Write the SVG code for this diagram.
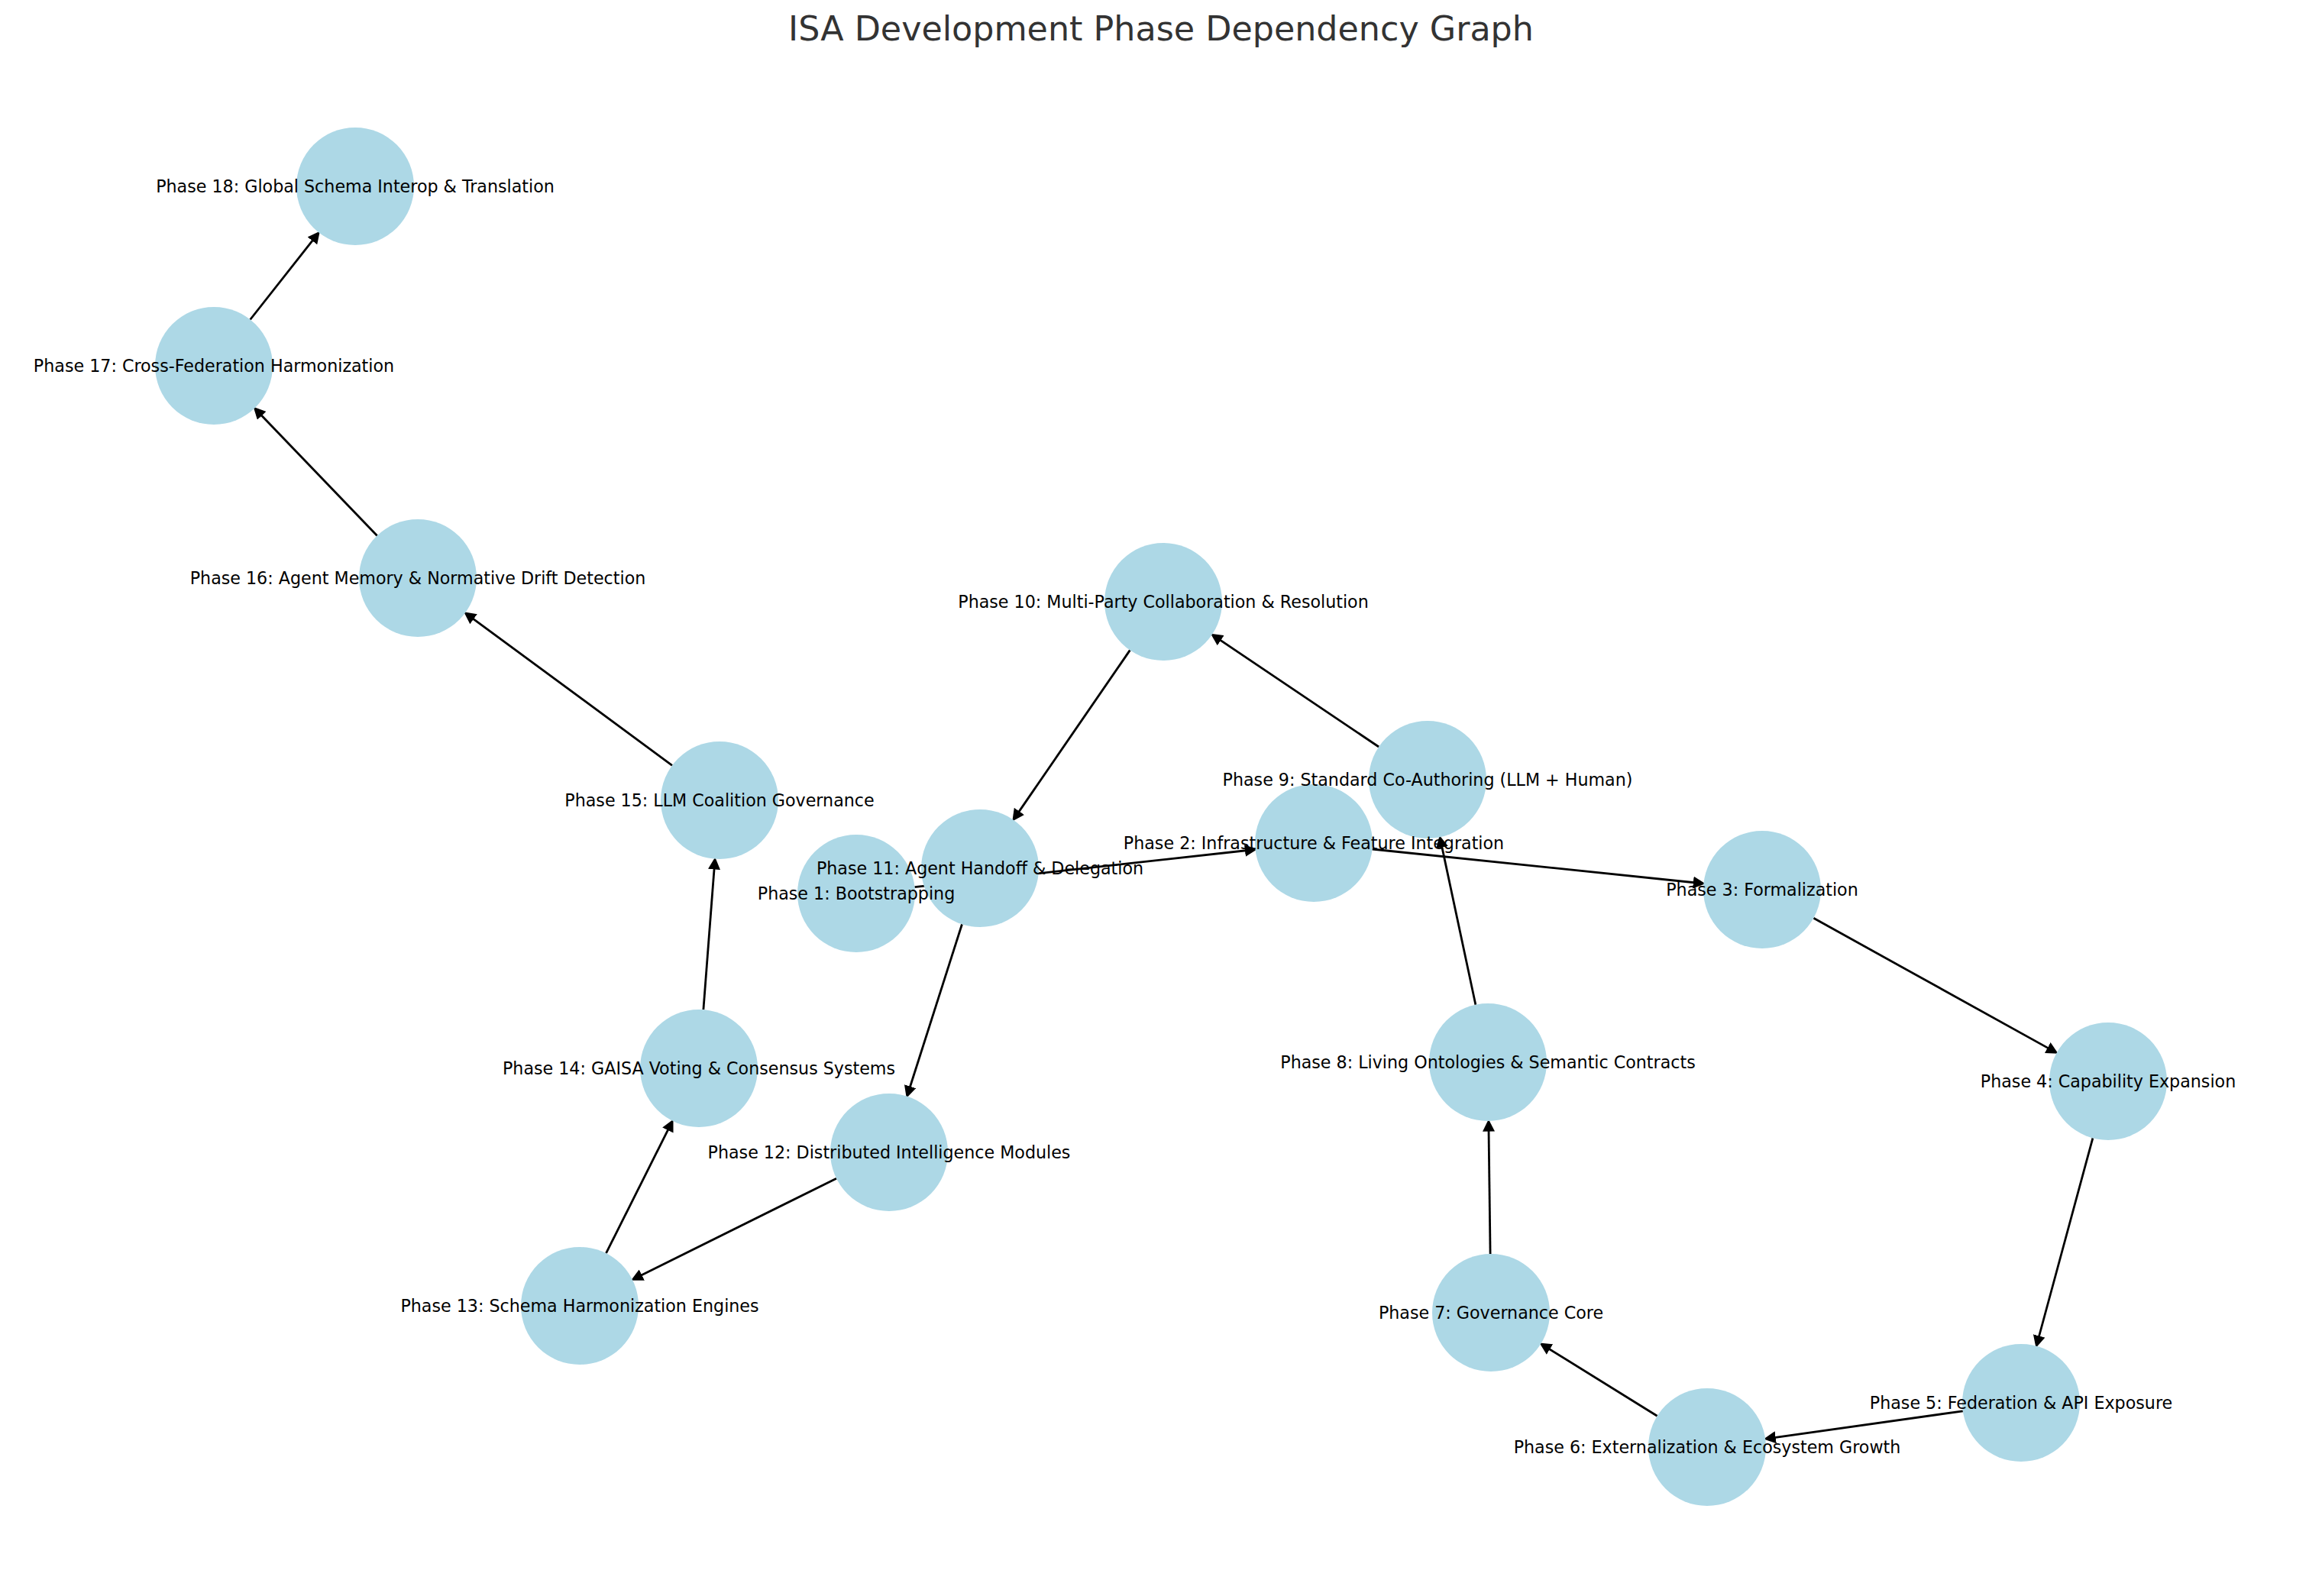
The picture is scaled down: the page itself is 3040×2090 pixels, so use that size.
<svg xmlns="http://www.w3.org/2000/svg" width="3040" height="2090" viewBox="0 0 3040 2090">
<style>
.node{fill:#add8e6;stroke:none}
.edge{stroke:#000;stroke-width:2.8;fill:none}
.lbl{font-family:"DejaVu Sans","Liberation Sans",sans-serif;font-size:22.2px;fill:#000;text-anchor:middle}
.title{font-family:"DejaVu Sans","Liberation Sans",sans-serif;font-size:44.4px;fill:#333;text-anchor:middle}
</style>
<defs>
<marker id="arr" markerUnits="userSpaceOnUse" markerWidth="16" markerHeight="16" refX="3" refY="6.5" orient="auto" viewBox="0 0 13 13">
<path d="M0,0 L13,6.5 L0,13 z" fill="#000"/>
</marker>
</defs>
<rect width="3040" height="2090" fill="#fff"/>
<text class="title" x="1520" y="53">ISA Development Phase Dependency Graph</text>
<g id="edges">
<line class="edge" marker-end="url(#arr)" x1="1197.5" y1="1161.6" x2="1633.6" y2="1113.5"/>
<line class="edge" marker-end="url(#arr)" x1="1796.6" y1="1112.0" x2="2220.5" y2="1156.0"/>
<line class="edge" marker-end="url(#arr)" x1="2374.4" y1="1202.3" x2="2683.9" y2="1373.9"/>
<line class="edge" marker-end="url(#arr)" x1="2739.9" y1="1490.3" x2="2668.7" y2="1753.0"/>
<line class="edge" marker-end="url(#arr)" x1="2569.8" y1="1847.8" x2="2321.1" y2="1882.8"/>
<line class="edge" marker-end="url(#arr)" x1="2169.6" y1="1854.3" x2="2025.9" y2="1765.0"/>
<line class="edge" marker-end="url(#arr)" x1="1951.1" y1="1642" x2="1949.0" y2="1478"/>
<line class="edge" marker-end="url(#arr)" x1="1931.9" y1="1315.7" x2="1887.2" y2="1106.1"/>
<line class="edge" marker-end="url(#arr)" x1="1805.1" y1="978.0" x2="1595.2" y2="836.6"/>
<line class="edge" marker-end="url(#arr)" x1="1479.4" y1="851.4" x2="1332.3" y2="1065.4"/>
<line class="edge" marker-end="url(#arr)" x1="1259.5" y1="1210.3" x2="1190.5" y2="1426.2"/>
<line class="edge" marker-end="url(#arr)" x1="1095.0" y1="1543.2" x2="837.0" y2="1671.3"/>
<line class="edge" marker-end="url(#arr)" x1="793.5" y1="1641.2" x2="876.0" y2="1476.7"/>
<line class="edge" marker-end="url(#arr)" x1="920.9" y1="1322.2" x2="935.3" y2="1134.8"/>
<line class="edge" marker-end="url(#arr)" x1="880.0" y1="1002.3" x2="617.1" y2="808.6"/>
<line class="edge" marker-end="url(#arr)" x1="493.7" y1="701.5" x2="340.2" y2="541.7"/>
<line class="edge" marker-end="url(#arr)" x1="327.6" y1="418.5" x2="411.2" y2="312.4"/>
</g>
<g id="node-1"><circle class="node" cx="1121" cy="1170" r="77"/></g>
<g id="node-2"><circle class="node" cx="1720" cy="1104" r="77"/></g>
<g id="node-3"><circle class="node" cx="2307" cy="1165" r="77"/></g>
<g id="node-4"><circle class="node" cx="2760" cy="1416" r="77"/></g>
<g id="node-5"><circle class="node" cx="2646" cy="1837" r="77"/></g>
<g id="node-6"><circle class="node" cx="2235" cy="1895" r="77"/></g>
<g id="node-7"><circle class="node" cx="1952" cy="1719" r="77"/></g>
<g id="node-8"><circle class="node" cx="1948" cy="1391" r="77"/></g>
<g id="node-9"><circle class="node" cx="1869" cy="1021" r="77"/></g>
<g id="node-10"><circle class="node" cx="1523" cy="788" r="77"/></g>
<g id="node-11"><circle class="node" cx="1283" cy="1137" r="77"/></g>
<g id="node-12"><circle class="node" cx="1164" cy="1509" r="77"/></g>
<g id="node-13"><circle class="node" cx="759" cy="1710" r="77"/></g>
<g id="node-14"><circle class="node" cx="915" cy="1399" r="77"/></g>
<g id="node-15"><circle class="node" cx="942" cy="1048" r="77"/></g>
<g id="node-16"><circle class="node" cx="547" cy="757" r="77"/></g>
<g id="node-17"><circle class="node" cx="280" cy="479" r="77"/></g>
<g id="node-18"><circle class="node" cx="465" cy="244" r="77"/></g>
<g id="labels">
<text id="label-1" class="lbl" x="1121" y="1178">Phase 1: Bootstrapping</text>
<text id="label-2" class="lbl" x="1720" y="1112">Phase 2: Infrastructure &amp; Feature Integration</text>
<text id="label-3" class="lbl" x="2307" y="1173">Phase 3: Formalization</text>
<text id="label-4" class="lbl" x="2760" y="1424">Phase 4: Capability Expansion</text>
<text id="label-5" class="lbl" x="2646" y="1845">Phase 5: Federation &amp; API Exposure</text>
<text id="label-6" class="lbl" x="2235" y="1903">Phase 6: Externalization &amp; Ecosystem Growth</text>
<text id="label-7" class="lbl" x="1952" y="1727">Phase 7: Governance Core</text>
<text id="label-8" class="lbl" x="1948" y="1399">Phase 8: Living Ontologies &amp; Semantic Contracts</text>
<text id="label-9" class="lbl" x="1869" y="1029">Phase 9: Standard Co-Authoring (LLM + Human)</text>
<text id="label-10" class="lbl" x="1523" y="796">Phase 10: Multi-Party Collaboration &amp; Resolution</text>
<text id="label-11" class="lbl" x="1283" y="1145">Phase 11: Agent Handoff &amp; Delegation</text>
<text id="label-12" class="lbl" x="1164" y="1517">Phase 12: Distributed Intelligence Modules</text>
<text id="label-13" class="lbl" x="759" y="1718">Phase 13: Schema Harmonization Engines</text>
<text id="label-14" class="lbl" x="915" y="1407">Phase 14: GAISA Voting &amp; Consensus Systems</text>
<text id="label-15" class="lbl" x="942" y="1056">Phase 15: LLM Coalition Governance</text>
<text id="label-16" class="lbl" x="547" y="765">Phase 16: Agent Memory &amp; Normative Drift Detection</text>
<text id="label-17" class="lbl" x="280" y="487">Phase 17: Cross-Federation Harmonization</text>
<text id="label-18" class="lbl" x="465" y="252">Phase 18: Global Schema Interop &amp; Translation</text>
</g>
</svg>
